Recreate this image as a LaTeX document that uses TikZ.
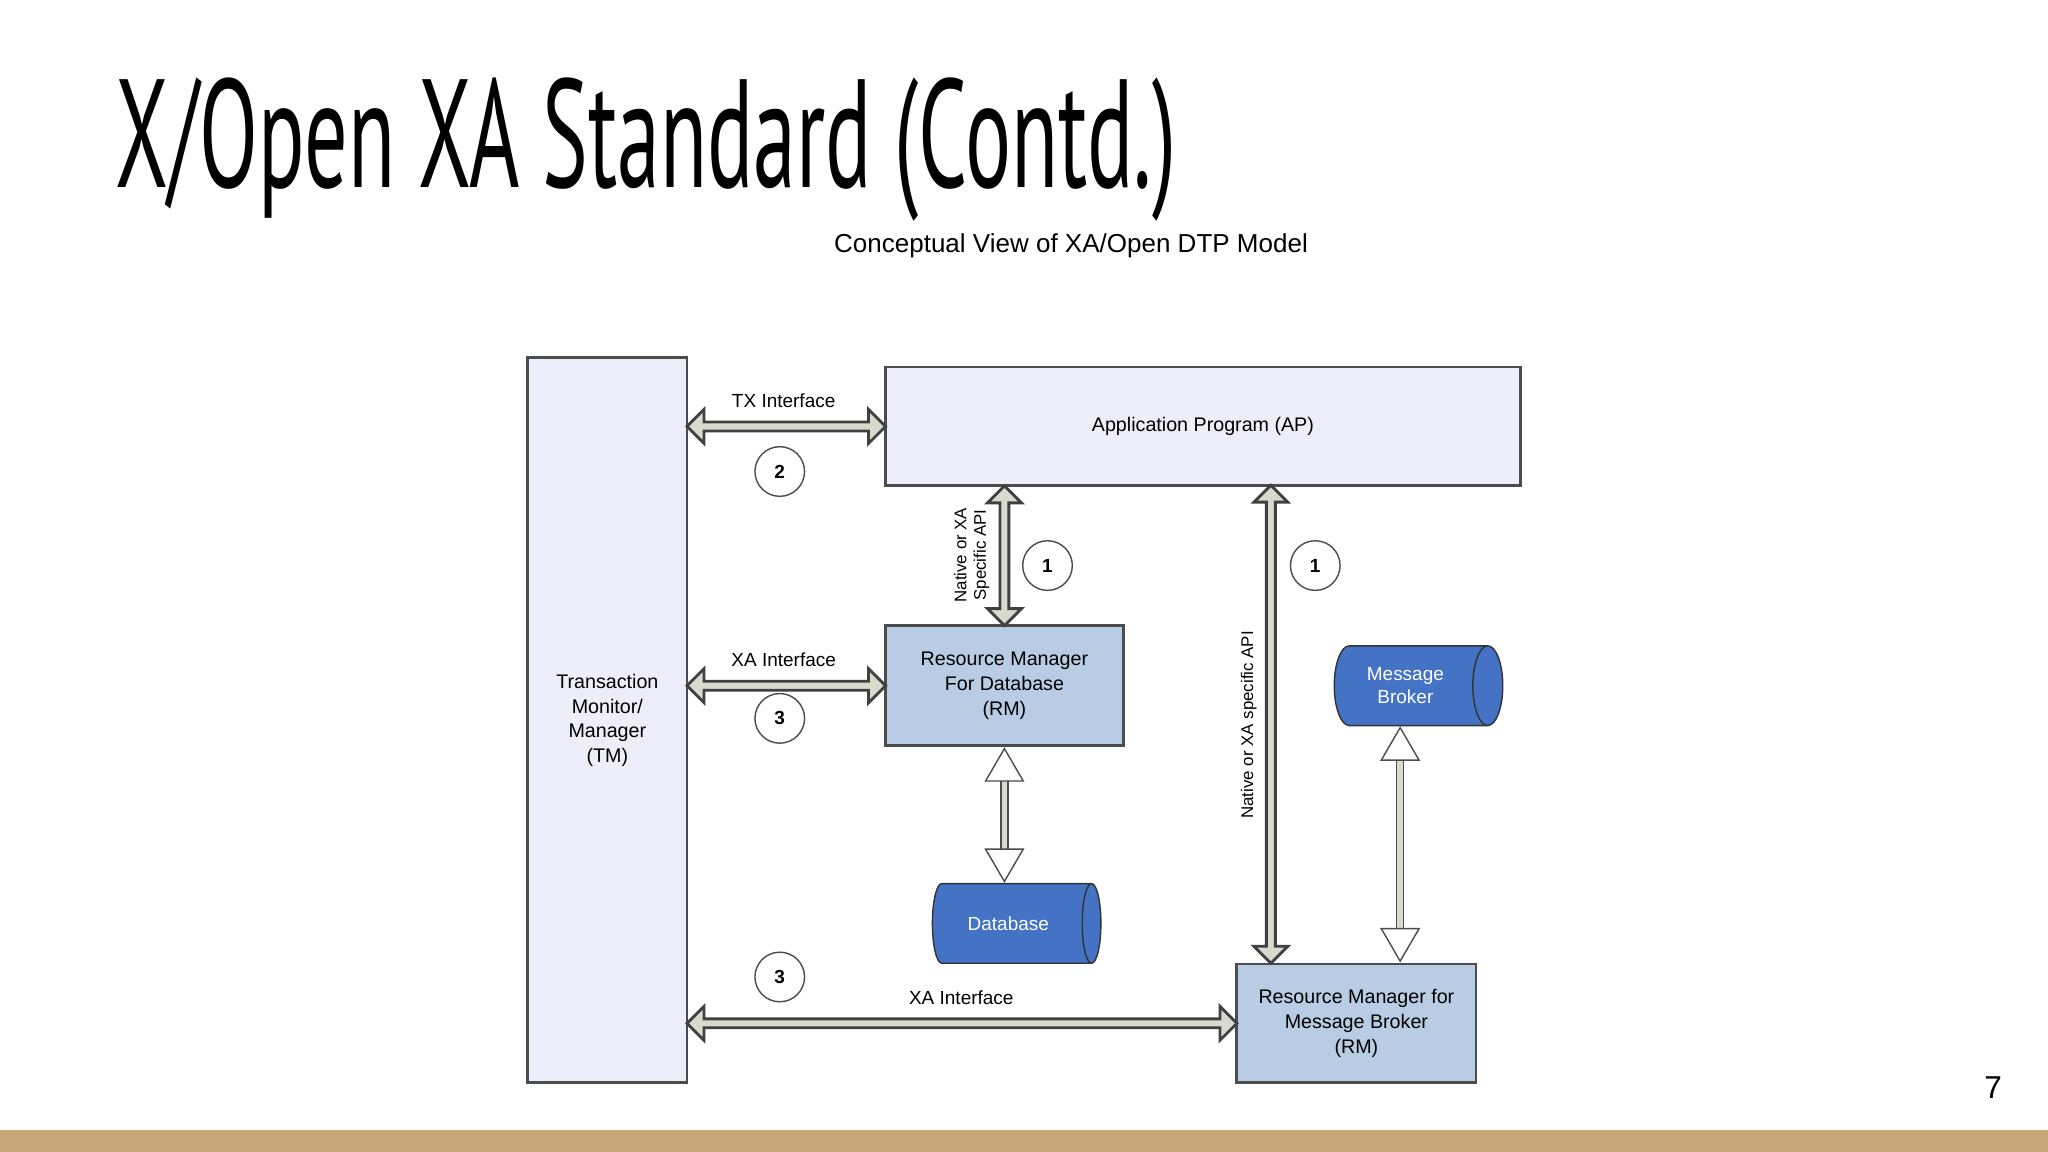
\documentclass[tikz,border=0pt]{standalone}
\usepackage{fontspec}
\setmainfont{Liberation Sans}
\newfontfamily\titlefont{PT Sans}
\usetikzlibrary{arrows.meta,positioning,shapes.geometric,shapes.arrows,calc}
\newcommand\px{0.013061cm}
\definecolor{tmfill}{RGB}{238,238,250}
\definecolor{rmfill}{RGB}{184,204,228}
\definecolor{dbfill}{RGB}{68,114,196}
\definecolor{arrfill}{RGB}{216,218,206}
\definecolor{tan}{RGB}{200,168,122}
\tikzset{
  box/.style={draw=black!70, line width=0.8pt, align=center, font=\fontsize{5.6}{7}\selectfont},
  store/.style={cylinder, draw=black!80, fill=dbfill, text=white, shape aspect=0.5,
    minimum width=61*\px, minimum height=129*\px, font=\fontsize{5.4}{6.6}\selectfont, align=center},
  numcircle/.style={circle, draw=black!70, fill=white, minimum size=38*\px, inner sep=0pt,
    font=\bfseries\fontsize{5.4}{6}\selectfont},
  fat/.style={double arrow, draw=black!75, fill=arrfill, minimum width=26*\px,
    double arrow head extend=3*\px, inner sep=0pt, line width=0.8pt},
  slim/.style={draw=black!70, double=arrfill, double distance=1.6pt, {Triangle[open]}-{Triangle[open]}},
  lbl/.style={font=\fontsize{5.4}{6.6}\selectfont, align=center}
}
\begin{document}
\begin{tikzpicture}[x=\px, y=-\px]
	\useasboundingbox (0,0) rectangle (1568,882);
	\fill[tan] (0,865) rectangle (1568,882);
	\node[anchor=south west, inner sep=0pt] (title) at (88,170)
	{\resizebox{10.606cm}{1.097cm}{\titlefont X/Open XA Standard (Contd.)}};
	\node[font=\fontsize{7.4}{9}\selectfont] (subtitle) at (820,188) {Conceptual View of XA/Open DTP Model};
	\node[font=\fontsize{9}{10}\selectfont] (page) at (1526,833) {7};
	
	% boxes
	\node[box, fill=tmfill, minimum width=122*\px, minimum height=555*\px] (tm) at (465,551.5)
	{Transaction\\Monitor/\\Manager\\(TM)};
	\node[box, fill=tmfill, minimum width=486*\px, minimum height=91*\px] (ap) at (921,326.5)
	{Application Program (AP)};
	\node[box, fill=rmfill, minimum width=182*\px, minimum height=92*\px] (rmdb) at (769,525)
	{Resource Manager\\For Database\\(RM)};
	\node[box, fill=rmfill, minimum width=183*\px, minimum height=91*\px] (rmmb) at (1038.5,783.5)
	{Resource Manager for\\Message Broker\\(RM)};
	\node[store] (db) at (772,707) {Database};
	\node[store] (mb) at (1076,525) {Message\\Broker};
	
	% fat connectors
	\path (tm.east|-ap) -- (ap.west) node[fat, midway, minimum height=152*\px] (tx) {};
	\path (tm.east|-rmdb) -- (rmdb.west) node[fat, midway, minimum height=152*\px] (xa) {};
	\path (tm.east|-rmmb) -- (rmmb.west) node[fat, midway, minimum height=421*\px] (xab) {};
	\path (ap.south-|rmdb) -- (rmdb.north) node[fat, midway, rotate=90, minimum height=107*\px] (api) {};
	\coordinate (apb) at (973,372);
	\path (apb) -- (apb|-rmmb.north) node[fat, midway, rotate=90, minimum height=366*\px] (apib) {};
	
	% slim connectors
	\draw[slim] (rmdb.south) -- (db.north-|rmdb.south);
	\draw[slim] (mb.south-|1072,0) -- (rmmb.north-|1072,0);
	
	% labels
	\node[lbl] at (600,307) {TX Interface};
	\node[lbl] at (600,505) {XA Interface};
	\node[lbl] at (736,764) {XA Interface};
	\node[lbl, rotate=90, font=\fontsize{4.8}{5.6}\selectfont] at (744,425) {Native or XA\\Specific API};
	\node[lbl, rotate=90, font=\fontsize{4.8}{5.6}\selectfont] at (956,555) {Native or XA specific API};
	
	\node[numcircle] (s2) at (597,361) {2};
	\node[numcircle] (s3a) at (597,550) {3};
	\node[numcircle] (s3b) at (597,748) {3};
	\node[numcircle] (s1a) at (802,433) {1};
	\node[numcircle] (s1b) at (1007,433) {1};
\end{tikzpicture}
\end{document}
